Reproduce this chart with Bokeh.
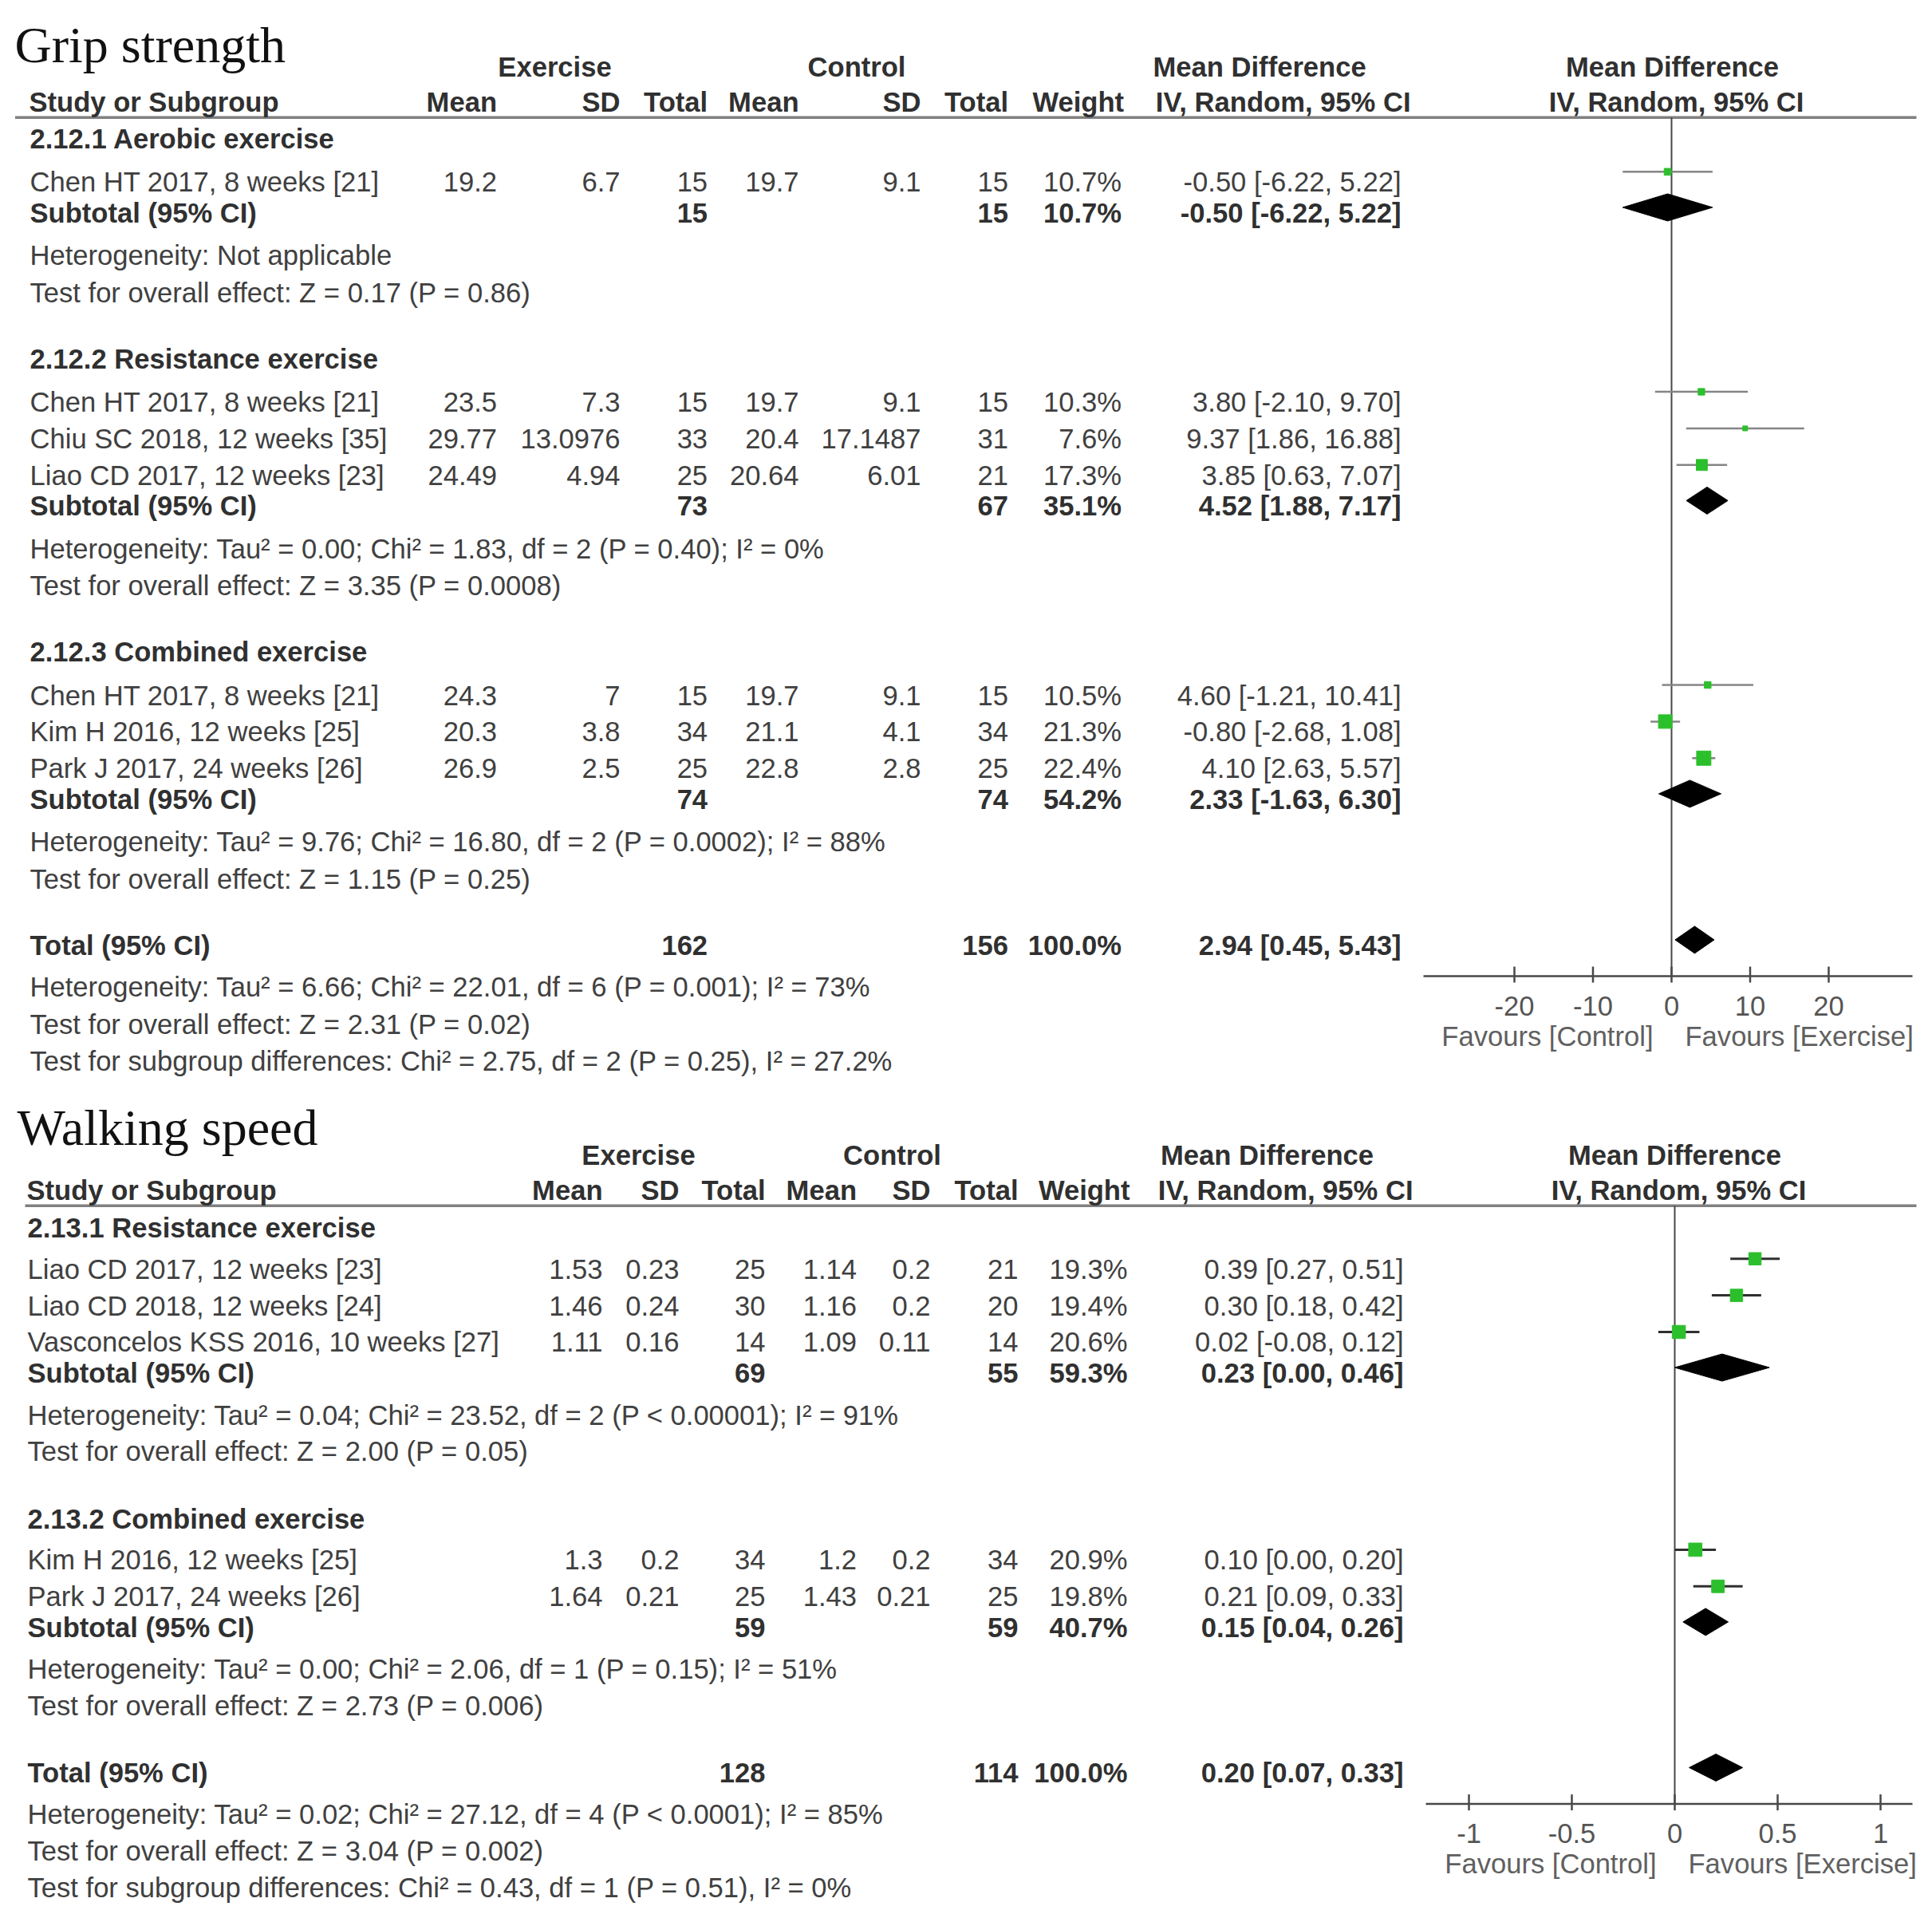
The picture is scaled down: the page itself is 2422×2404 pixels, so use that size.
from bokeh.plotting import figure
from bokeh.models import Range1d, ColumnDataSource
from bokeh.core.properties import value
from bokeh.embed import file_html
from bokeh.resources import INLINE

# ======================= DATA =======================
# ---- Grip strength ----
grip_title = "Grip strength"
grip_subgroups = ["2.12.1 Aerobic exercise", "2.12.2 Resistance exercise", "2.12.3 Combined exercise"]
grip_study = ["Chen HT 2017, 8 weeks [21]", "Chen HT 2017, 8 weeks [21]", "Chiu SC 2018, 12 weeks [35]",
              "Liao CD 2017, 12 weeks [23]", "Chen HT 2017, 8 weeks [21]", "Kim H 2016, 12 weeks [25]",
              "Park J 2017, 24 weeks [26]"]
grip_group = [0, 1, 1, 1, 2, 2, 2]
grip_ex_mean = ["19.2", "23.5", "29.77", "24.49", "24.3", "20.3", "26.9"]
grip_ex_sd = ["6.7", "7.3", "13.0976", "4.94", "7", "3.8", "2.5"]
grip_ex_n = [15, 15, 33, 25, 15, 34, 25]
grip_ct_mean = ["19.7", "19.7", "20.4", "20.64", "19.7", "21.1", "22.8"]
grip_ct_sd = ["9.1", "9.1", "17.1487", "6.01", "9.1", "4.1", "2.8"]
grip_ct_n = [15, 15, 31, 21, 15, 34, 25]
grip_weight = [10.7, 10.3, 7.6, 17.3, 10.5, 21.3, 22.4]
grip_md = [-0.50, 3.80, 9.37, 3.85, 4.60, -0.80, 4.10]
grip_lo = [-6.22, -2.10, 1.86, 0.63, -1.21, -2.68, 2.63]
grip_hi = [5.22, 9.70, 16.88, 7.07, 10.41, 1.08, 5.57]
grip_sub_ex_n = [15, 73, 74]
grip_sub_ct_n = [15, 67, 74]
grip_sub_weight = [10.7, 35.1, 54.2]
grip_sub_md = [-0.50, 4.52, 2.33]
grip_sub_lo = [-6.22, 1.88, -1.63]
grip_sub_hi = [5.22, 7.17, 6.30]
grip_sub_het = ["Heterogeneity: Not applicable",
                "Heterogeneity: Tau\u00b2 = 0.00; Chi\u00b2 = 1.83, df = 2 (P = 0.40); I\u00b2 = 0%",
                "Heterogeneity: Tau\u00b2 = 9.76; Chi\u00b2 = 16.80, df = 2 (P = 0.0002); I\u00b2 = 88%"]
grip_sub_test = ["Test for overall effect: Z = 0.17 (P = 0.86)",
                 "Test for overall effect: Z = 3.35 (P = 0.0008)",
                 "Test for overall effect: Z = 1.15 (P = 0.25)"]
grip_total_ex_n = 162
grip_total_ct_n = 156
grip_total_md = 2.94
grip_total_lo = 0.45
grip_total_hi = 5.43
grip_total_notes = ["Heterogeneity: Tau\u00b2 = 6.66; Chi\u00b2 = 22.01, df = 6 (P = 0.001); I\u00b2 = 73%",
                    "Test for overall effect: Z = 2.31 (P = 0.02)",
                    "Test for subgroup differences: Chi\u00b2 = 2.75, df = 2 (P = 0.25), I\u00b2 = 27.2%"]
grip_ticks = [-20, -10, 0, 10, 20]
grip_tick_labels = ["-20", "-10", "0", "10", "20"]

# ---- Walking speed ----
walk_title = "Walking speed"
walk_subgroups = ["2.13.1 Resistance exercise", "2.13.2 Combined exercise"]
walk_study = ["Liao CD 2017, 12 weeks [23]", "Liao CD 2018, 12 weeks [24]",
              "Vasconcelos KSS 2016, 10 weeks [27]", "Kim H 2016, 12 weeks [25]",
              "Park J 2017, 24 weeks [26]"]
walk_group = [0, 0, 0, 1, 1]
walk_ex_mean = ["1.53", "1.46", "1.11", "1.3", "1.64"]
walk_ex_sd = ["0.23", "0.24", "0.16", "0.2", "0.21"]
walk_ex_n = [25, 30, 14, 34, 25]
walk_ct_mean = ["1.14", "1.16", "1.09", "1.2", "1.43"]
walk_ct_sd = ["0.2", "0.2", "0.11", "0.2", "0.21"]
walk_ct_n = [21, 20, 14, 34, 25]
walk_weight = [19.3, 19.4, 20.6, 20.9, 19.8]
walk_md = [0.39, 0.30, 0.02, 0.10, 0.21]
walk_lo = [0.27, 0.18, -0.08, 0.00, 0.09]
walk_hi = [0.51, 0.42, 0.12, 0.20, 0.33]
walk_sub_ex_n = [69, 59]
walk_sub_ct_n = [55, 59]
walk_sub_weight = [59.3, 40.7]
walk_sub_md = [0.23, 0.15]
walk_sub_lo = [0.00, 0.04]
walk_sub_hi = [0.46, 0.26]
walk_sub_het = ["Heterogeneity: Tau\u00b2 = 0.04; Chi\u00b2 = 23.52, df = 2 (P < 0.00001); I\u00b2 = 91%",
                "Heterogeneity: Tau\u00b2 = 0.00; Chi\u00b2 = 2.06, df = 1 (P = 0.15); I\u00b2 = 51%"]
walk_sub_test = ["Test for overall effect: Z = 2.00 (P = 0.05)",
                 "Test for overall effect: Z = 2.73 (P = 0.006)"]
walk_total_ex_n = 128
walk_total_ct_n = 114
walk_total_md = 0.20
walk_total_lo = 0.07
walk_total_hi = 0.33
walk_total_notes = ["Heterogeneity: Tau\u00b2 = 0.02; Chi\u00b2 = 27.12, df = 4 (P < 0.0001); I\u00b2 = 85%",
                    "Test for overall effect: Z = 3.04 (P = 0.002)",
                    "Test for subgroup differences: Chi\u00b2 = 0.43, df = 1 (P = 0.51), I\u00b2 = 0%"]
walk_ticks = [-1, -0.5, 0, 0.5, 1]
walk_tick_labels = ["-1", "-0.5", "0", "0.5", "1"]

# column headers
hdr_group = ["Exercise", "Control", "Mean Difference"]
hdr_cols = ["Mean", "SD", "Total", "Mean", "SD", "Total", "Weight"]
hdr_method = "IV, Random, 95% CI"
favours = ["Favours [Control]", "Favours [Exercise]"]

# ======================= STYLE / LAYOUT =======================
W, H = 2406, 2388
SANS = "Liberation Sans"
SERIF = "Liberation Serif"
FS = 34.6
REG_C = "#404040"
BOLD_C = "#303030"
GREEN = "#2cbf2c"
S = 2422 / 1568.0

p = figure(width=W, height=H, x_range=Range1d(0, W), y_range=Range1d(H, 0),
           output_backend="svg", toolbar_location=None,
           x_axis_location=None, y_axis_location=None, min_border=0)
p.grid.visible = False
p.outline_line_color = None
p.background_fill_color = "white"

texts = {}


def add_text(x, y, s, bold=False, align="left", size=FS, color=None, font=SANS,
             baseline="middle", xr="default"):
    c = color or (BOLD_C if bold else REG_C)
    key = (font, size, bold, c, align, baseline, xr)
    d = texts.setdefault(key, {"x": [], "y": [], "t": []})
    d["x"].append(x)
    d["y"].append(y)
    d["t"].append(s)


def ci(m, lo, hi):
    return f"{m:.2f} [{lo:.2f}, {hi:.2f}]"


def draw_panel(name, title, title_y, line_y, cols, gaps, subgroups, study, group,
               ex_mean, ex_sd, ex_n, ct_mean, ct_sd, ct_n, weight, md, lo, hi,
               sub_ex_n, sub_ct_n, sub_w, sub_md, sub_lo, sub_hi, sub_het, sub_test,
               tot_ex, tot_ct, tot_md, tot_lo, tot_hi, tot_notes,
               ticks, tick_labels, forest):
    add_text(cols["title_x"], title_y, title, size=64, font=SERIF, color="#111111",
             baseline="alphabetic")
    h1 = line_y - 41 * S
    h2 = line_y - 12.5 * S
    add_text(cols["hdr_ex_c"], h1, hdr_group[0], bold=True, align="center")
    add_text(cols["hdr_ct_c"], h1, hdr_group[1], bold=True, align="center")
    add_text(cols["hdr_md_c"], h1, hdr_group[2], bold=True, align="center")
    add_text(forest["hdr_c"], h1, hdr_group[2], bold=True, align="center")
    add_text(cols["study_x"] - 1, h2, "Study or Subgroup", bold=True)
    keys = ["ex_mean", "ex_sd", "ex_n", "ct_mean", "ct_sd", "ct_n", "weight"]
    for k, lab in zip(keys, hdr_cols):
        add_text(cols[k] + (3 if k == "weight" else 0), h2, lab, bold=True, align="right")
    add_text(cols["md"] + 12, h2, hdr_method, bold=True, align="right")
    add_text(forest["hdr_c"] + 5, h2, hdr_method, bold=True, align="center")
    # header rule
    p.segment(x0=[cols["line_x0"]], y0=[line_y], x1=[2402], y1=[line_y],
              line_color="#808080", line_width=3.5)

    sx = cols["study_x"]
    y = line_y + gaps["first"] * S
    study_y, sub_y = [], []
    for gi, gname in enumerate(subgroups):
        add_text(sx, y, gname, bold=True)
        y += gaps["g2s"] * S
        idx = [i for i in range(len(study)) if group[i] == gi]
        for k, i in enumerate(idx):
            if k > 0:
                y += gaps["s2s"] * S
            study_y.append(y)
            add_text(sx, y, study[i])
            add_text(cols["ex_mean"], y, ex_mean[i], align="right")
            add_text(cols["ex_sd"], y, ex_sd[i], align="right")
            add_text(cols["ex_n"], y, str(ex_n[i]), align="right")
            add_text(cols["ct_mean"], y, ct_mean[i], align="right")
            add_text(cols["ct_sd"], y, ct_sd[i], align="right")
            add_text(cols["ct_n"], y, str(ct_n[i]), align="right")
            add_text(cols["weight"], y, f"{weight[i]:.1f}%", align="right")
            add_text(cols["md"], y, ci(md[i], lo[i], hi[i]), align="right")
        y += gaps["s2sub"] * S
        sub_y.append(y)
        add_text(sx, y, "Subtotal (95% CI)", bold=True)
        add_text(cols["ex_n"], y, str(sub_ex_n[gi]), bold=True, align="right")
        add_text(cols["ct_n"], y, str(sub_ct_n[gi]), bold=True, align="right")
        add_text(cols["weight"], y, f"{sub_w[gi]:.1f}%", bold=True, align="right")
        add_text(cols["md"], y, ci(sub_md[gi], sub_lo[gi], sub_hi[gi]), bold=True, align="right")
        y += gaps["sub2het"] * S
        add_text(sx, y, sub_het[gi])
        y += gaps["het2test"] * S
        add_text(sx, y, sub_test[gi])
        y += gaps["test2next"] * S
    tot_y = y
    add_text(sx, y, "Total (95% CI)", bold=True)
    add_text(cols["ex_n"], y, str(tot_ex), bold=True, align="right")
    add_text(cols["ct_n"], y, str(tot_ct), bold=True, align="right")
    add_text(cols["weight"], y, "100.0%", bold=True, align="right")
    add_text(cols["md"], y, ci(tot_md, tot_lo, tot_hi), bold=True, align="right")
    y += gaps["tot2het"] * S
    for k, note in enumerate(tot_notes):
        if k > 0:
            y += gaps["het2test"] * S
        add_text(sx, y, note)

    # ---------------- forest panel ----------------
    xr = name + "_x"
    z, ppu = forest["zero_px"], forest["ppu"]
    p.extra_x_ranges[xr] = Range1d((0 - z) / ppu, (W - z) / ppu)
    axis_y = tot_y + 25 * S
    p.segment(x0=[0], y0=[line_y], x1=[0], y1=[axis_y], x_range_name=xr,
              line_color="#484848", line_width=2)
    p.segment(x0=[forest["ax0"]], y0=[axis_y], x1=[2397], y1=[axis_y],
              line_color="#484848", line_width=2.5)
    p.segment(x0=ticks, y0=[axis_y - 12] * len(ticks), x1=ticks, y1=[axis_y + 8] * len(ticks),
              x_range_name=xr, line_color="#484848", line_width=2.5)
    for t, lab in zip(ticks, tick_labels):
        add_text(t, axis_y + 37, lab, align="center", color="#555555", xr=xr)
    add_text(-23 / ppu, axis_y + 75, favours[0], align="right", color="#606060", xr=xr)
    add_text(17 / ppu, axis_y + 75, favours[1], align="left", color="#606060", xr=xr)

    sy = [v - 13 for v in study_y]
    p.segment(x0=lo, y0=sy, x1=hi, y1=sy, x_range_name=xr,
              line_color=forest["ci_color"], line_width=forest["ci_width"])
    p.scatter(x=md, y=sy, size=[w * 0.8 for w in weight], marker="square",
              x_range_name=xr, fill_color=GREEN, line_color=GREEN)
    hh = 17
    d_lo = list(sub_lo) + [tot_lo]
    d_md = list(sub_md) + [tot_md]
    d_hi = list(sub_hi) + [tot_hi]
    d_y = [v - 7 for v in sub_y] + [tot_y - 7]
    p.patches(xs=[[a, b, c, b] for a, b, c in zip(d_lo, d_md, d_hi)],
              ys=[[v, v - hh, v, v + hh] for v in d_y],
              x_range_name=xr, fill_color="black", line_color="black")


grip_cols = dict(title_x=18, study_x=37, ex_mean=622.5, ex_sd=777, ex_n=886.6, ct_mean=1001,
                 ct_sd=1154, ct_n=1263.5, weight=1405.6, md=1756, hdr_ex_c=695,
                 hdr_ct_c=1073.5, hdr_md_c=1578.6, line_x0=18.5)
grip_gaps = dict(first=17.5, g2s=35, s2s=29.7, s2sub=25, sub2het=34.5, het2test=30,
                 test2next=54, tot2het=34)
grip_forest = dict(zero_px=2095, ppu=9.85, ax0=1784, hdr_c=2096, ci_color="#858585", ci_width=2.5)

walk_cols = dict(title_x=21, study_x=34, ex_mean=755, ex_sd=851, ex_n=959, ct_mean=1073.5,
                 ct_sd=1166, ct_n=1276, weight=1413, md=1759, hdr_ex_c=800,
                 hdr_ct_c=1118, hdr_md_c=1588, line_x0=31)
walk_gaps = dict(first=18, g2s=33.5, s2s=29.7, s2sub=25, sub2het=34, het2test=29.7,
                 test2next=54.5, tot2het=33.5)
walk_forest = dict(zero_px=2099, ppu=258, ax0=1787, hdr_c=2099, ci_color="#303030", ci_width=3)

draw_panel("grip", grip_title, 36 * S, 95 * S, grip_cols, grip_gaps, grip_subgroups, grip_study,
           grip_group, grip_ex_mean, grip_ex_sd, grip_ex_n, grip_ct_mean, grip_ct_sd, grip_ct_n,
           grip_weight, grip_md, grip_lo, grip_hi, grip_sub_ex_n, grip_sub_ct_n, grip_sub_weight,
           grip_sub_md, grip_sub_lo, grip_sub_hi, grip_sub_het, grip_sub_test,
           grip_total_ex_n, grip_total_ct_n, grip_total_md, grip_total_lo, grip_total_hi,
           grip_total_notes, grip_ticks, grip_tick_labels, grip_forest)

draw_panel("walk", walk_title, 915 * S, 978 * S, walk_cols, walk_gaps, walk_subgroups, walk_study,
           walk_group, walk_ex_mean, walk_ex_sd, walk_ex_n, walk_ct_mean, walk_ct_sd, walk_ct_n,
           walk_weight, walk_md, walk_lo, walk_hi, walk_sub_ex_n, walk_sub_ct_n, walk_sub_weight,
           walk_sub_md, walk_sub_lo, walk_sub_hi, walk_sub_het, walk_sub_test,
           walk_total_ex_n, walk_total_ct_n, walk_total_md, walk_total_lo, walk_total_hi,
           walk_total_notes, walk_ticks, walk_tick_labels, walk_forest)

for (font, size, bold, color, align, baseline, xr), d in texts.items():
    src = ColumnDataSource(dict(x=d["x"], y=d["y"], t=d["t"]))
    kw = {}
    if xr != "default":
        kw["x_range_name"] = xr
    p.text(x="x", y="y", text="t", source=src, text_font=value(font),
           text_font_size=value(f"{size}px"), text_font_style="bold" if bold else "normal",
           text_color=color, text_align=align, text_baseline=baseline, **kw)

open("out.html", "w").write(file_html(p, INLINE))
